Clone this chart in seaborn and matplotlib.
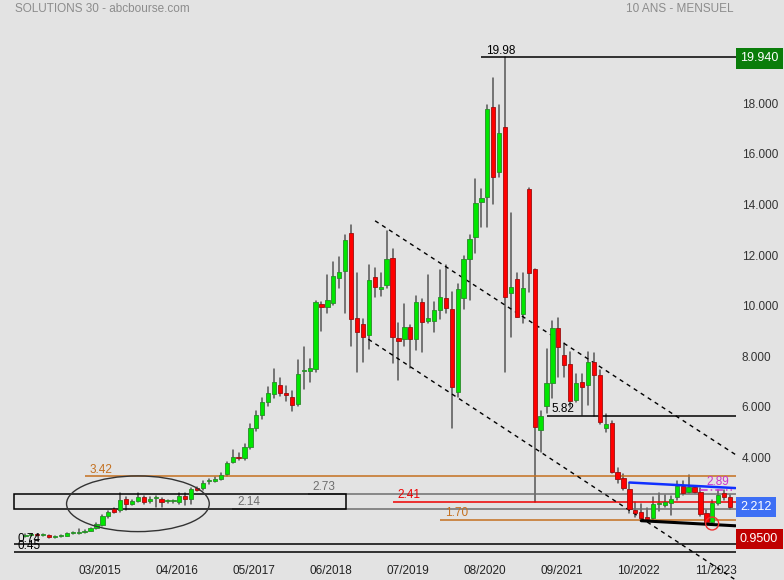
import numpy as np
import pandas as pd
import matplotlib
matplotlib.use("Agg")
import matplotlib.pyplot as plt
import matplotlib.transforms as mtransforms
from matplotlib.patches import Ellipse, Rectangle
import seaborn as sns

# monthly candles, index 0 = 02/2014 ... 119 = 01/2024
opens = [1.06, 1.09, 1.12, 1.10, 1.09, 1.03, 1.06, 1.07, 1.17, 1.17,
         1.21, 1.28, 1.37, 1.51, 1.84, 2.13, 2.08, 2.52, 2.34, 2.45,
         2.59, 2.44, 2.55, 2.53, 2.44, 2.44, 2.40, 2.65, 2.52, 2.95,
         2.96, 3.23, 3.25, 3.30, 3.51, 3.98, 4.20, 4.15, 4.60, 5.35,
         5.85, 6.35, 6.68, 7.03, 6.72, 6.56, 6.30, 7.58, 7.59, 7.66,
         10.23, 10.10, 10.27, 11.26, 11.54, 13.04, 9.68, 9.44, 9.00, 11.30,
         10.83, 10.98, 12.05, 8.89, 8.84, 9.31, 8.84, 10.30, 9.57, 9.57,
         9.98, 10.46, 10.04, 6.77, 10.48, 12.00, 12.89, 14.28, 14.47, 18.00,
         15.46, 17.21, 10.66, 11.21, 9.84, 14.78, 11.60, 5.27, 6.20, 7.10,
         9.27, 8.22, 7.85, 6.44, 7.14, 7.02, 7.93, 7.43, 5.35, 5.54,
         3.58, 3.35, 2.91, 2.09, 2.00, 1.83, 1.77, 2.34, 2.29, 2.38,
         2.60, 3.05, 2.82, 3.01, 2.82, 1.96, 1.63, 2.36, 2.75, 2.62]
highs = [1.14, 1.16, 1.15, 1.14, 1.12, 1.08, 1.10, 1.19, 1.24, 1.33,
         1.30, 1.38, 1.58, 1.90, 2.05, 2.18, 2.75, 2.60, 2.50, 2.75,
         2.65, 2.60, 2.66, 2.58, 2.48, 2.48, 2.78, 2.75, 2.98, 3.00,
         3.25, 3.32, 3.38, 3.55, 4.00, 4.45, 4.35, 4.70, 5.50, 6.00,
         6.50, 6.95, 7.66, 7.30, 7.00, 6.80, 8.02, 8.53, 8.06, 10.35,
         10.31, 11.38, 11.89, 12.09, 12.96, 13.37, 11.46, 9.64, 11.77, 11.66,
         11.46, 13.12, 12.41, 9.48, 10.23, 9.40, 10.55, 10.43, 11.38, 10.31,
         11.58, 11.77, 10.71, 11.01, 12.13, 12.95, 15.17, 14.76, 18.10, 19.15,
         18.08, 19.98, 13.82, 11.45, 11.45, 14.83, 11.62, 6.02, 8.45, 9.56,
         9.67, 8.68, 8.35, 7.48, 7.45, 8.32, 8.29, 7.63, 5.88, 5.62,
         3.74, 3.52, 3.17, 2.42, 2.32, 2.16, 2.62, 2.78, 2.69, 2.65,
         3.25, 3.25, 3.48, 3.05, 2.95, 2.10, 2.49, 2.88, 2.89, 2.70]
lows = [1.02, 1.05, 1.06, 1.05, 1.00, 1.00, 1.03, 1.05, 1.14, 1.15,
        1.19, 1.25, 1.33, 1.45, 1.78, 1.98, 2.00, 2.10, 2.28, 2.40,
        2.35, 2.38, 2.20, 2.20, 2.38, 2.38, 2.35, 2.30, 2.32, 2.85,
        2.90, 3.12, 3.20, 3.27, 3.45, 3.95, 4.05, 4.05, 4.50, 5.20,
        5.70, 6.20, 6.50, 6.60, 6.40, 6.00, 6.20, 6.87, 7.15, 7.55,
        9.17, 9.88, 10.20, 10.87, 9.88, 8.57, 7.55, 7.94, 8.46, 10.51,
        10.55, 10.87, 7.90, 7.23, 8.57, 7.70, 8.42, 8.35, 9.50, 9.14,
        9.64, 9.89, 5.35, 6.57, 10.02, 10.39, 12.24, 13.26, 13.29, 14.18,
        15.26, 7.56, 8.94, 9.70, 9.47, 10.70, 2.42, 4.40, 5.91, 6.51,
        7.36, 7.36, 6.18, 6.35, 5.85, 6.24, 5.80, 5.50, 5.19, 3.55,
        3.15, 2.88, 1.96, 1.83, 1.70, 1.70, 1.70, 2.05, 2.22, 1.90,
        2.50, 2.69, 2.75, 2.78, 1.85, 1.57, 1.53, 2.29, 2.49, 2.15]
closes = [1.11, 1.13, 1.10, 1.11, 1.02, 1.07, 1.08, 1.17, 1.19, 1.24,
          1.28, 1.37, 1.54, 1.84, 2.01, 2.03, 2.48, 2.32, 2.46, 2.61,
          2.42, 2.52, 2.57, 2.40, 2.46, 2.46, 2.65, 2.52, 2.91, 2.89,
          3.15, 3.25, 3.30, 3.46, 3.94, 4.20, 4.14, 4.60, 5.35, 5.85,
          6.35, 6.70, 7.15, 6.72, 6.64, 6.25, 7.47, 7.64, 7.70, 10.31,
          10.11, 10.38, 11.34, 11.50, 12.76, 9.64, 9.13, 8.93, 11.18, 10.90,
          10.90, 12.01, 8.93, 8.77, 9.31, 8.84, 10.30, 9.53, 9.67, 9.98,
          10.50, 10.06, 6.97, 10.83, 12.01, 12.80, 14.21, 14.41, 17.94, 15.26,
          16.98, 10.52, 10.92, 9.71, 10.85, 11.45, 5.39, 5.82, 7.10, 9.27,
          8.55, 7.82, 6.41, 7.10, 6.94, 7.93, 7.42, 5.58, 5.49, 3.61,
          3.31, 2.95, 2.15, 1.96, 1.77, 1.73, 2.32, 2.37, 2.42, 2.52,
          3.04, 2.75, 3.01, 2.82, 1.92, 1.63, 2.36, 2.69, 2.62, 2.21]

# x axis labels (month index) and price ticks
date_pos = [13, 26, 39, 52, 65, 78, 91, 104, 117]
date_labels = ["03/2015", "04/2016", "05/2017", "06/2018", "07/2019",
               "08/2020", "09/2021", "10/2022", "11/2023"]
price_ticks = [4, 6, 8, 10, 12, 14, 16, 18, 20]

# horizontal levels drawn on the chart
levels = [19.98, 5.82, 3.42, 2.73, 2.41, 2.14, 1.70, 0.74, 0.45]
level_start = [77, 88, 10, 47.7, 62, 34.9, 70, -1.9, -1.9]
level_colors = ["black", "black", "#c4701f", "#6e6e6e", "#ee0000",
                "#6e6e6e", "#c4701f", "black", "black"]

# trend channel (month index, price)
upper_channel = [(59.05, 13.52), (120.0, 4.27)]
lower_channel = [(57.92, 8.84), (120.0, -0.68)]
resistance = [(102.0, 3.18), (119.9, 2.96)]
support = [(104.0, 1.67), (119.9, 1.47)]
level_289 = [(113.9, 2.89), (119.3, 2.89)]

df = pd.DataFrame({"o": opens, "h": highs, "l": lows, "c": closes})
df["m"] = np.arange(len(df))
df["up"] = df.c >= df.o

BG = "#e3e3e3"
sns.set_theme(style="white", rc={"axes.facecolor": BG, "figure.facecolor": BG})
plt.rcParams["font.family"] = ["Liberation Sans", "DejaVu Sans"]

fig = plt.figure(figsize=(7.84, 5.80), dpi=100)
ax = fig.add_axes([0, 0, 736 / 784, 1])
ax.set_xlim(-4.29, 120.0)
ax.set_ylim(-0.672, 22.244)

# wicks
wicks = pd.concat([
    pd.DataFrame({"m": df.m, "price": df.l, "unit": df.m}),
    pd.DataFrame({"m": df.m, "price": df.h, "unit": df.m}),
]).sort_values(["unit", "price"])
sns.lineplot(data=wicks, x="m", y="price", units="unit", estimator=None,
             color="#555555", linewidth=1.1, sort=False, legend=False, ax=ax)

# bodies
body = (df.c - df.o).abs().clip(lower=0.05)
bottom = df[["o", "c"]].min(axis=1)
ax.bar(df.m, body, bottom=bottom, width=0.72,
       color=np.where(df.up, "#00e600", "#ff0000"),
       edgecolor=np.where(df.up, "#2a8a2a", "#9a1010"), linewidth=0.6, zorder=3)

# horizontal levels
for lv, x0, col in zip(levels, level_start, level_colors):
    ax.hlines(lv, x0, 120, color=col, linewidth=1.1, zorder=2)
    if lv not in (0.74, 0.45):
        ax.annotate(f"{lv:.2f}", (x0 + 0.85, lv), xytext=(0, 0.5),
                    textcoords="offset points", va="bottom", ha="left",
                    fontsize=8.5, color=col)
    else:
        ax.annotate(f"{lv:.2f}", (x0 + 0.6, lv), xytext=(0, -0.5),
                    textcoords="offset points", va="bottom", ha="left",
                    fontsize=8.5, color="black")

# box between 2.14 and 2.73
ax.add_patch(Rectangle((-1.93, 2.14), 56.0, 2.73 - 2.14, fill=False,
                       edgecolor="black", linewidth=1.1, zorder=2))

# ellipse round the 2015-2016 range
ax.add_patch(Ellipse((19.0, 2.34), 24.1, 2.20, fill=False,
                     edgecolor="#333333", linewidth=1.0, zorder=4))

# channel lines
for seg in (upper_channel, lower_channel):
    xs, ys = zip(*seg)
    ax.plot(xs, ys, color="black", linewidth=1.0, dashes=(3, 3), zorder=2)

xs, ys = zip(*resistance)
ax.plot(xs, ys, color="#1030ff", linewidth=1.8, zorder=5)
xs, ys = zip(*support)
ax.plot(xs, ys, color="black", linewidth=2.2, zorder=5)
xs, ys = zip(*level_289)
ax.plot(xs, ys, color="#cc33cc", linewidth=1.1, dashes=(5, 2, 1, 2), zorder=5)
ax.annotate("2.89", (115.0, 2.89), xytext=(0, 1), textcoords="offset points",
            va="bottom", ha="left", fontsize=8.5, color="#cc33cc")

# circle round the last low
ax.add_patch(Ellipse((115.97, 1.56), 2.2, 0.51, fill=False,
                     edgecolor="#ee3030", linewidth=1.0, zorder=6))

# axes cosmetics
sns.despine(ax=ax, left=True, bottom=True, right=True, top=True)
ax.set_xlabel("")
ax.set_ylabel("")
ax.yaxis.tick_right()
ax.set_yticks(price_ticks)
ax.set_yticklabels([f"{t:.3f}" for t in price_ticks])
ax.set_xticks(date_pos)
ax.set_xticklabels(date_labels)
ax.tick_params(axis="y", length=0, pad=4, labelsize=8.5, labelcolor="#333333")
ax.tick_params(axis="x", length=0, pad=-10.5, labelsize=8.5, labelcolor="#222222")
up = mtransforms.ScaledTranslation(0, 3 / 72, fig.dpi_scale_trans)
for lab in ax.get_yticklabels():
    lab.set_transform(lab.get_transform() + up)
left = mtransforms.ScaledTranslation(-2.4 / 100, 0, fig.dpi_scale_trans)
for lab in ax.get_xticklabels():
    lab.set_transform(lab.get_transform() + left)

# price boxes on the right
side = mtransforms.blended_transform_factory(ax.transAxes, ax.transData)
for val, txt, col in [(19.94, "19.940", "#0a7d0a"), (2.212, "2.212", "#3d6ff5"),
                      (0.95, "0.9500", "#c00000")]:
    ax.text(1.0 + 4 / 736, val, txt, transform=side, ha="left", va="center",
            fontsize=9, color="white", clip_on=False, zorder=10,
            bbox=dict(boxstyle="square,pad=0.35", fc=col, ec="none"))

fig.text(15 / 784, 1 - 9 / 580, "SOLUTIONS 30 - abcbourse.com", ha="left",
         va="center", fontsize=8.5, color="#8c8c8c")
fig.text(733 / 784, 1 - 9 / 580, "10 ANS - MENSUEL", ha="right",
         va="center", fontsize=8.5, color="#8c8c8c")

fig.savefig("out.png", dpi=100, facecolor=BG)
